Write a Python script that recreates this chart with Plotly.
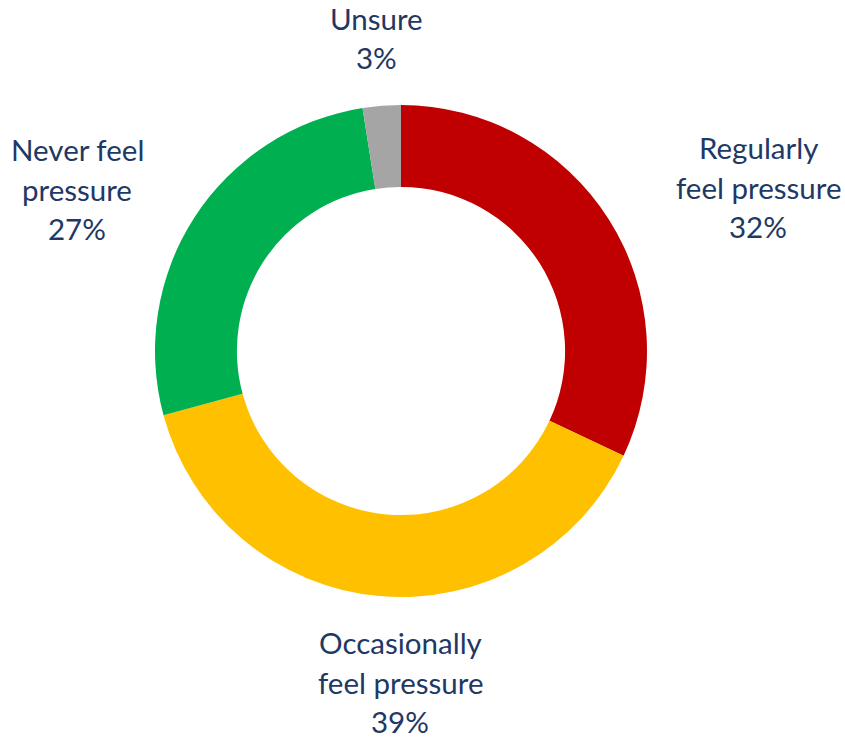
import plotly.graph_objects as go

categories = ["Regularly feel pressure", "Occasionally feel pressure", "Never feel pressure", "Unsure"]
values = [32.0, 38.8, 26.7, 2.5]
colors = ["#C00000", "#FFC000", "#00B050", "#A5A5A5"]
label_lines = [["Regularly", "feel pressure", "32%"],
               ["Occasionally", "feel pressure", "39%"],
               ["Never feel", "pressure", "27%"],
               ["Unsure", "3%"]]

W, H = 845, 738
cx, cy, R = 401, 351, 246

fig = go.Figure(go.Pie(
    labels=categories, values=values, sort=False, direction="clockwise",
    hole=0.667, marker=dict(colors=colors, line=dict(width=0)),
    textinfo="none", showlegend=False, hoverinfo="label",
    domain=dict(x=[(cx - R) / W, (cx + R) / W], y=[1 - (cy + R) / H, 1 - (cy - R) / H]),
))

# label block centers (pixels) and line spacing
centers = [(758, 187), (400, 682), (77, 189), (376, 38)]
spacing = 39.5
for lines, (px, py) in zip(label_lines, centers):
    n = len(lines)
    for i, t in enumerate(lines):
        yy = py + (i - (n - 1) / 2) * spacing
        fig.add_annotation(text=t, x=px / W, y=1 - yy / H, xref="paper", yref="paper",
                           xanchor="center", yanchor="middle", showarrow=False, borderpad=0,
                           font=dict(family="Lato", size=29.5, color="#1F3864"))

fig.update_layout(width=W, height=H, margin=dict(l=0, r=0, t=0, b=0),
                  paper_bgcolor="white", plot_bgcolor="white")
fig.write_html("out.html", config={"displayModeBar": False},
               post_script="document.body.style.margin='0px';")
